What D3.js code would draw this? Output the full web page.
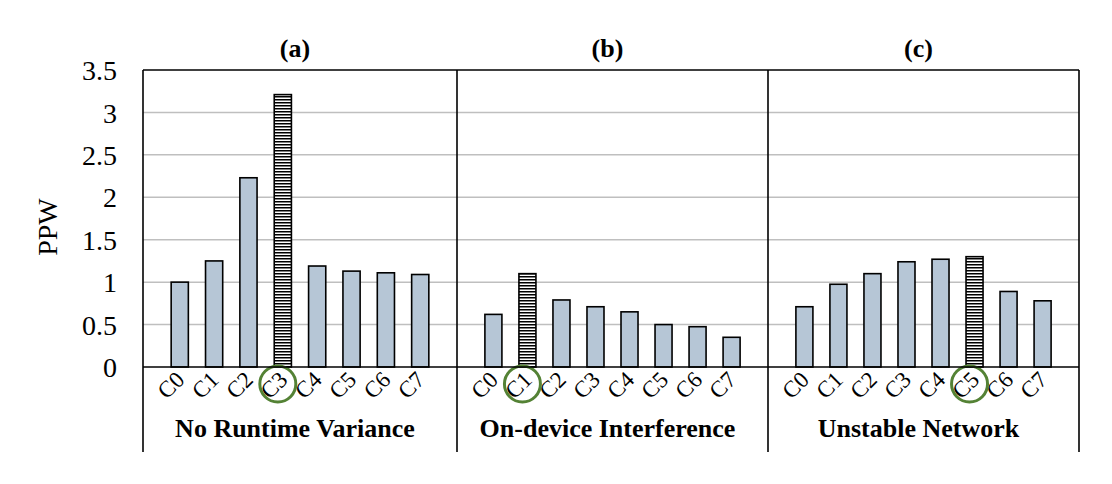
<!DOCTYPE html>
<html>
<head>
<meta charset="utf-8">
<script src="https://cdn.jsdelivr.net/npm/d3@7"></script>
<style>
  body { margin: 0; background: #fff; }
  text { font-family: "Liberation Serif", "Times New Roman", serif; fill: #000; }
</style>
</head>
<body>
<div id="canvas"></div>
<script>
// Data
var categories = ["C0", "C1", "C2", "C3", "C4", "C5", "C6", "C7"]
var panel_titles = ["(a)", "(b)", "(c)"]
var group_labels = ["No Runtime Variance", "On-device Interference", "Unstable Network"]
var values_a = [1.0, 1.25, 2.23, 3.21, 1.19, 1.13, 1.11, 1.09]
var values_b = [0.62, 1.10, 0.79, 0.71, 0.65, 0.50, 0.475, 0.35]
var values_c = [0.71, 0.975, 1.10, 1.24, 1.27, 1.30, 0.89, 0.78]
var best = ["C3", "C1", "C5"]
var y_ticks = [0, 0.5, 1, 1.5, 2, 2.5, 3, 3.5]
var y_label = "PPW"

// Display variables
var total_width = 1112, total_height = 484
var plot_left = 143, plot_right = 1079, plot_top = 70, plot_base = 367, frame_bottom = 452
var panel_edges = [143, 457, 768, 1079]
var bar_colour = "#b6c6d6"
var grid_colour = "#bfbfbf"
var circle_colour = "#548235"

var svg = d3.select("#canvas").append("svg").attr("width", total_width).attr("height", total_height)

// Stripe pattern for the best config
var pat = svg.append("defs").append("pattern")
    .attr("id", "stripes")
    .attr("patternUnits", "userSpaceOnUse")
    .attr("width", 6).attr("height", 3)
pat.append("rect").attr("width", 6).attr("height", 3).attr("fill", "#fff")
pat.append("rect").attr("width", 6).attr("height", 1.5).attr("fill", "#000")

var y = d3.scaleLinear().domain([0, 3.5]).range([plot_base, plot_top])

// Gridlines
svg.append("g").selectAll("line")
    .data(y_ticks.filter(d => d > 0 && d < 3.5))
    .enter().append("line")
    .attr("x1", plot_left).attr("x2", plot_right)
    .attr("y1", d => y(d)).attr("y2", d => y(d))
    .attr("stroke", grid_colour).attr("stroke-width", 1.5)

// Y tick labels
svg.append("g").selectAll("text")
    .data(y_ticks)
    .enter().append("text")
    .attr("x", 117).attr("y", d => y(d))
    .attr("dy", "0.36em")
    .attr("text-anchor", "end")
    .style("font-size", "28px")
    .text(d => d)

svg.append("text")
    .attr("transform", "translate(57,227) rotate(-90)")
    .attr("text-anchor", "middle")
    .style("font-size", "28px")
    .text(y_label)

var all_values = [values_a, values_b, values_c]

all_values.forEach(function (vals, p) {
    var x0 = panel_edges[p], x1 = panel_edges[p + 1]
    var x = d3.scaleBand().domain(categories).range([x0, x1]).paddingInner(0.5).paddingOuter(0.82)
    var mid = (x0 + x1) / 2 - 5
    var g = svg.append("g")

    g.selectAll("rect")
        .data(vals)
        .enter().append("rect")
        .attr("x", (d, i) => x(categories[i]))
        .attr("width", x.bandwidth())
        .attr("y", d => y(d))
        .attr("height", d => y(0) - y(d))
        .attr("fill", (d, i) => categories[i] == best[p] ? "url(#stripes)" : bar_colour)
        .attr("stroke", "#000").attr("stroke-width", 1.6)

    // rotated category labels
    g.selectAll(".tick_label")
        .data(categories)
        .enter().append("text")
        .attr("class", "tick_label")
        .attr("transform", d => "translate(" + (x(d) + x.bandwidth() / 2 + 6) + ",381) rotate(-45)")
        .attr("text-anchor", "end")
        .style("font-size", "23px")
        .text(d => d)

    // circle round the best config
    g.append("circle")
        .attr("cx", x(best[p]) + x.bandwidth() / 2 - 5)
        .attr("cy", 384)
        .attr("r", 18)
        .attr("fill", "none")
        .attr("stroke", circle_colour).attr("stroke-width", 3)

    g.append("text")
        .attr("x", mid).attr("y", 57)
        .attr("text-anchor", "middle")
        .style("font-size", "26px").style("font-weight", "bold")
        .text(panel_titles[p])

    g.append("text")
        .attr("x", mid).attr("y", 437)
        .attr("text-anchor", "middle")
        .style("font-size", "26px").style("font-weight", "bold")
        .text(group_labels[p])
})

// Frame: top, x axis, and vertical lines
svg.append("line").attr("x1", plot_left).attr("x2", plot_right)
    .attr("y1", plot_top).attr("y2", plot_top).attr("stroke", "#000").attr("stroke-width", 1.6)
svg.append("line").attr("x1", plot_left).attr("x2", plot_right)
    .attr("y1", plot_base).attr("y2", plot_base).attr("stroke", "#000").attr("stroke-width", 1.6)
svg.append("g").selectAll("line")
    .data(panel_edges)
    .enter().append("line")
    .attr("x1", d => d).attr("x2", d => d)
    .attr("y1", plot_top).attr("y2", frame_bottom)
    .attr("stroke", "#000").attr("stroke-width", 1.6)
</script>
</body>
</html>
